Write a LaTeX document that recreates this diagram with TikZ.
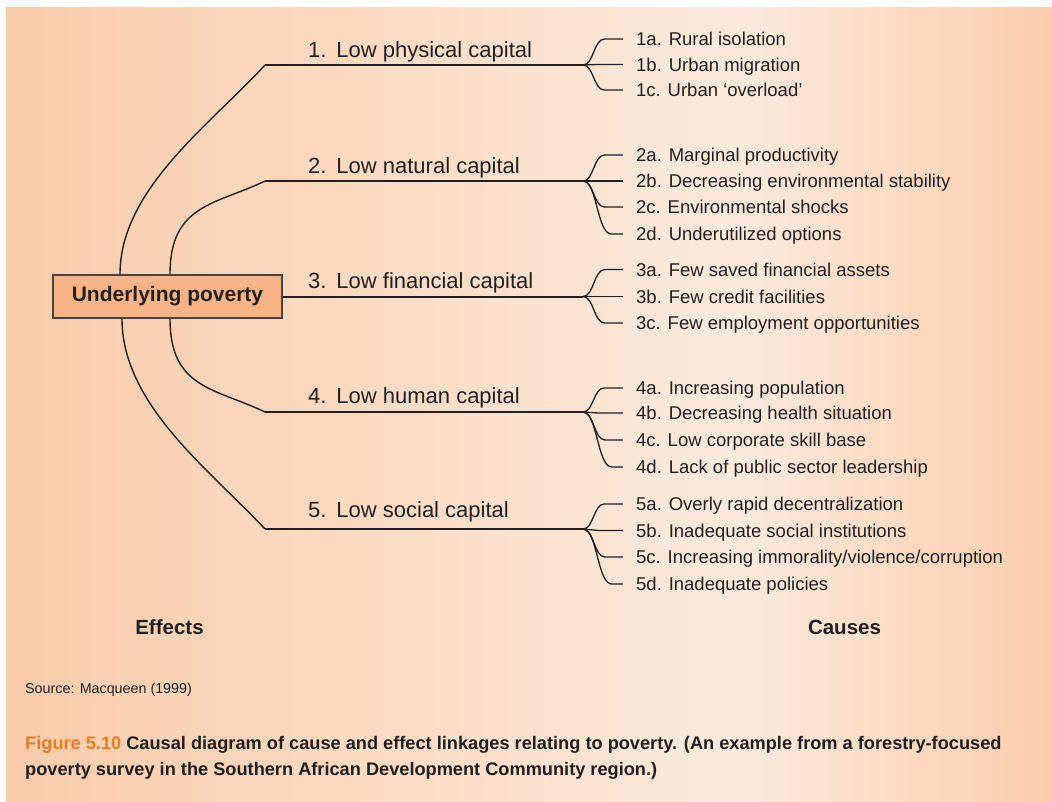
\documentclass[tikz,border=0pt]{standalone}
\usepackage{fontspec}
\setmainfont{Liberation Sans}
\definecolor{ink}{HTML}{231F20}
\definecolor{peachL}{HTML}{F9CCAA}
\definecolor{peachC}{HTML}{FDEADC}
\definecolor{peachR}{HTML}{FACDAC}
\definecolor{boxfill}{HTML}{F9B487}
\definecolor{boxline}{HTML}{4D4140}
\definecolor{figorange}{HTML}{F27A22}
\tikzset{
  trunk/.style={draw=ink, line width=2pt},
  limb/.style={draw=ink, line width=1.4pt},
  twig/.style={draw=ink, line width=1.3pt},
  rootbox/.style={draw=boxline, fill=boxfill, line width=1.5pt, minimum width=229pt, minimum height=43pt, inner sep=0pt,
    font=\bfseries\fontsize{21}{24}\selectfont, text=ink},
  capital/.style={anchor=west, inner sep=0pt, text height=15.5pt, text depth=0pt, font=\fontsize{22}{26}\selectfont, text=ink},
  cause/.style={anchor=west, inner sep=0pt, text height=13.3pt, text depth=0pt, font=\fontsize{18.5}{22}\selectfont, text=ink},
  heading/.style={inner sep=0pt, font=\bfseries\fontsize{20.5}{24}\selectfont, text=ink},
}
\newcommand\twigto[3]{%
  \pgfmathsetmacro\ex{598+0.25*abs(#2-#1)}%
  \pgfmathsetmacro\mx{(583+\ex)/2}%
  \draw[twig] (583,#1) .. controls (\mx,#1) and (\mx,#2) .. (\ex,#2) -- ([xshift=-13pt]#3.west);%
}
\begin{document}
\begin{tikzpicture}[x=1pt,y=-1pt]
\useasboundingbox (0,0) rectangle (1052,801);
\fill[white] (0,0) rectangle (1052,801);
\shade[left color=peachL, right color=peachC] (6,7) rectangle (740,801);
\shade[left color=peachC, right color=peachR] (739.5,7) rectangle (1052,801);

% root
\node[rootbox] (up) at (167.5,296.5) {Underlying poverty};

% trunk coordinates
\coordinate (t1) at (265,65);
\coordinate (t2) at (265,181);
\coordinate (t4) at (265,412);
\coordinate (t5) at (265,529);
\coordinate (f1) at (583,65);
\coordinate (f2) at (583,181);
\coordinate (f3) at (583,296.5);
\coordinate (f4) at (583,412);
\coordinate (f5) at (583,529);

% curves from the box
\draw[limb] ([xshift=-47.5pt]up.north) .. controls +(0,-85) and (210,125) .. (t1);
\draw[limb] ([xshift=2.5pt]up.north) .. controls +(0,-70) and (215,205) .. (t2);
\draw[limb] ([xshift=2.5pt]up.south) .. controls +(0,70) and (215,388) .. (t4);
\draw[limb] ([xshift=-45.5pt]up.south) .. controls +(0,86) and (210,470) .. (t5);

% horizontal trunks
\draw[trunk] (t1) -- (f1);
\draw[trunk] (t2) -- (f2);
\draw[trunk] (up.east) -- (f3);
\draw[trunk] (t4) -- (f4);
\draw[trunk] (t5) -- (f5);

% capital labels
\node[capital] (c1) at (308,50) {1.\hspace{0.45em}Low physical capital};
\node[capital] (c2) at (308,165.5) {2.\hspace{0.45em}Low natural capital};
\node[capital] (c3) at (308,281) {3.\hspace{0.45em}Low financial capital};
\node[capital] (c4) at (308,396) {4.\hspace{0.45em}Low human capital};
\node[capital] (c5) at (308,509.5) {5.\hspace{0.45em}Low social capital};

% causes
\node[cause] (i1a) at (636,39) {1a. Rural isolation};
\node[cause] (i1b) at (636,64.5) {1b. Urban migration};
\node[cause] (i1c) at (636,90) {1c. Urban ‘overload’};

\node[cause] (i2a) at (636,155) {2a. Marginal productivity};
\node[cause] (i2b) at (636,181) {2b. Decreasing environmental stability};
\node[cause] (i2c) at (636,207) {2c. Environmental shocks};
\node[cause] (i2d) at (636,234) {2d. Underutilized options};

\node[cause] (i3a) at (636,269.5) {3a. Few saved financial assets};
\node[cause] (i3b) at (636,296.5) {3b. Few credit facilities};
\node[cause] (i3c) at (636,323) {3c. Few employment opportunities};

\node[cause] (i4a) at (636,388) {4a. Increasing population};
\node[cause] (i4b) at (636,413) {4b. Decreasing health situation};
\node[cause] (i4c) at (636,440) {4c. Low corporate skill base};
\node[cause] (i4d) at (636,467) {4d. Lack of public sector leadership};

\node[cause] (i5a) at (636,504) {5a. Overly rapid decentralization};
\node[cause] (i5b) at (636,530.5) {5b. Inadequate social institutions};
\node[cause] (i5c) at (636,557) {5c. Increasing immorality/violence/corruption};
\node[cause] (i5d) at (636,584) {5d. Inadequate policies};

% twigs
\twigto{65}{39}{i1a}
\twigto{65}{64.5}{i1b}
\twigto{65}{90}{i1c}
\twigto{181}{155}{i2a}
\twigto{181}{181}{i2b}
\twigto{181}{207}{i2c}
\twigto{181}{234}{i2d}
\twigto{296.5}{269.5}{i3a}
\twigto{296.5}{296.5}{i3b}
\twigto{296.5}{323}{i3c}
\twigto{412}{388}{i4a}
\twigto{412}{413}{i4b}
\twigto{412}{440}{i4c}
\twigto{412}{467}{i4d}
\twigto{529}{504}{i5a}
\twigto{529}{530.5}{i5b}
\twigto{529}{557}{i5c}
\twigto{529}{584}{i5d}

% headings
\node[heading] (eff) at (169.5,627) {Effects};
\node[heading] (cau) at (844.5,627) {Causes};

% source and caption
\node[anchor=west, inner sep=0pt, text=ink, font=\fontsize{14.3}{16}\selectfont] (src) at (25,690) {Source: Macqueen (1999)};
\node[anchor=north west, inner sep=0pt, text=ink, align=left,
      font=\bfseries\fontsize{18.2}{26}\selectfont] (cap) at (25,736)
  {{\color{figorange}Figure 5.10} Causal diagram of cause and effect linkages relating to poverty. (An example from a forestry-focused\\
   poverty survey in the Southern African Development Community region.)};
\end{tikzpicture}
\end{document}
